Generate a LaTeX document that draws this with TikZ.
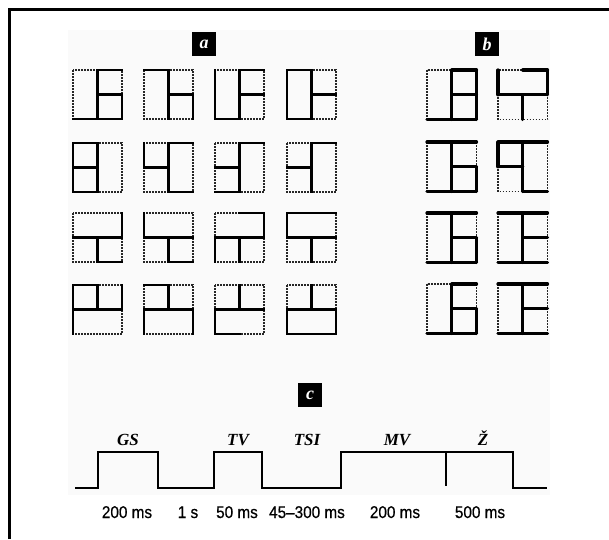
\documentclass[tikz,border=0pt]{standalone}
\usepackage{fontspec}
\setmainfont{Liberation Serif}
\newfontfamily\sansf[FakeStretch=0.9,FakeBold=0.6]{Liberation Sans}
\newcommand\glyphsq[6]{%
\begin{scope}[shift={(#1,#2)}]
\coordinate (TL) at (0,0); \coordinate (TM) at (#3/2,0); \coordinate (TR) at (#3,0);
\coordinate (ML) at (0,#3/2); \coordinate (C) at (#3/2,#3/2); \coordinate (MR) at (#3,#3/2);
\coordinate (BL) at (0,#3); \coordinate (BM) at (#3/2,#3); \coordinate (BR) at (#3,#3);
\draw[#4dot] (TL) rectangle (BR) #5;
\draw[#4sol] #6;
\end{scope}}
\tikzset{
  adot/.style={line width=1.2pt, dash pattern=on 1.6pt off 1.4pt, black!85},
  asol/.style={line width=2.6pt, line cap=rect},
  bdot/.style={line width=1.4pt, dash pattern=on 1.6pt off 1.4pt, black!85},
  bsol/.style={line width=3.2pt, line cap=round, line join=round},
  lab/.style={fill=black, text=white, minimum size=24pt, inner sep=0pt, font=\fontsize{18}{18}\selectfont\bfseries\itshape},
  tlab/.style={anchor=base, font=\fontsize{17}{17}\selectfont\bfseries\itshape},
  blab/.style={anchor=base, font=\sansf\fontsize{17}{17}\selectfont},
  wave/.style={line width=1.8pt, line join=miter}
}
\begin{document}
\begin{tikzpicture}[x=1pt,y=-1pt]
\useasboundingbox (0,0) rectangle (609,539);
\fill[black!2] (68,30) rectangle (550,495);
\draw[line width=3pt] (9.5,539) -- (9.5,9.5) -- (609,9.5);
% labels
\node[lab] (la) at (204,44) {a};
\node[lab] (lb) at (487,44) {b};
\node[lab] (lc) at (310,395) {c};
% panel a
\def\s{49}
% row 1 (V-R)
\glyphsq{73}{70}{\s}{a}{(TM)--(BM) (C)--(MR)}{(BL)--(BR) (TM)--(BM) (TM)--(TR) (C)--(MR) (MR)--(BR)}
\glyphsq{144}{70}{\s}{a}{(TM)--(BM) (C)--(MR)}{(TL)--(TM) (TM)--(BM) (C)--(MR) (MR)--(BR)}
\glyphsq{215}{70}{\s}{a}{(TM)--(BM) (C)--(MR)}{(TL)--(BL) (BL)--(BM) (TM)--(BM) (TM)--(TR) (C)--(MR)}
\glyphsq{287}{70}{\s}{a}{(TM)--(BM) (C)--(MR)}{(TL)--(TM) (TL)--(BL) (BL)--(BM) (TM)--(BM) (C)--(MR)}
% row 2 (V-L)
\glyphsq{73}{143}{\s}{a}{(TM)--(BM) (ML)--(C)}{(TL)--(BL) (TL)--(TM) (ML)--(C) (TM)--(BM) (BL)--(BM)}
\glyphsq{144}{143}{\s}{a}{(TM)--(BM) (ML)--(C)}{(TL)--(ML) (ML)--(C) (TM)--(BM) (TM)--(TR) (BM)--(BR)}
\glyphsq{215}{143}{\s}{a}{(TM)--(BM) (ML)--(C)}{(ML)--(C) (BL)--(BM) (TM)--(BM) (TM)--(TR)}
\glyphsq{287}{143}{\s}{a}{(TM)--(BM) (ML)--(C)}{(ML)--(C) (TM)--(BM) (TM)--(TR)}
% row 3 (H-B)
\glyphsq{73}{213}{\s}{a}{(ML)--(MR) (C)--(BM)}{(TR)--(MR) (ML)--(MR) (C)--(BM) (BM)--(BR)}
\glyphsq{144}{213}{\s}{a}{(ML)--(MR) (C)--(BM)}{(TL)--(ML) (ML)--(MR) (C)--(BM) (BM)--(BR)}
\glyphsq{215}{213}{\s}{a}{(ML)--(MR) (C)--(BM)}{(TM)--(TR) (TR)--(MR) (ML)--(MR) (C)--(BM) (ML)--(BL)}
\glyphsq{287}{213}{\s}{a}{(ML)--(MR) (C)--(BM)}{(TL)--(TR) (TL)--(ML) (ML)--(MR) (C)--(BM)}
% row 4 (H-T)
\glyphsq{73}{285}{\s}{a}{(ML)--(MR) (TM)--(C)}{(TL)--(TM) (TL)--(BL) (TM)--(C) (ML)--(MR) (TR)--(MR)}
\glyphsq{144}{285}{\s}{a}{(ML)--(MR) (TM)--(C)}{(TL)--(TM) (TM)--(C) (ML)--(MR) (ML)--(BL) (MR)--(BR)}
\glyphsq{215}{285}{\s}{a}{(ML)--(MR) (TM)--(C)}{(TM)--(C) (ML)--(MR) (ML)--(BL) (BL)--(BM)}
\glyphsq{287}{285}{\s}{a}{(ML)--(MR) (TM)--(C)}{(TM)--(C) (ML)--(MR) (ML)--(BL) (BL)--(BR) (MR)--(BR)}
% panel b
\def\t{49.5}
\glyphsq{427}{70}{\t}{b}{(TM)--(BM) (C)--(MR)}{(TM)--(TR) (TM)--(BM) (TR)--(BR) (C)--(MR) (BL)--(BR)}
\glyphsq{498}{70}{\t}{b}{(ML)--(MR) (C)--(BM)}{(TM)--(TR) (TL)--(ML) (TR)--(MR) (ML)--(MR) (C)--(BM)}
\glyphsq{427}{142}{\t}{b}{(TM)--(BM) (C)--(MR)}{(TL)--(TR) (TM)--(BM) (C)--(MR) (MR)--(BR) (BL)--(BR)}
\glyphsq{498}{142}{\t}{b}{(TM)--(BM) (ML)--(C)}{(TL)--(TR) (TL)--(ML) (ML)--(C) (TM)--(BM) (BM)--(BR)}
\glyphsq{427}{213}{\t}{b}{(TM)--(BM) (C)--(MR)}{(TL)--(TR) (TM)--(BM) (C)--(MR) (MR)--(BR) (BL)--(BR)}
\glyphsq{498}{213}{\t}{b}{(TM)--(BM) (C)--(MR)}{(TL)--(TR) (TM)--(BM) (C)--(MR) (BL)--(BR)}
\glyphsq{427}{284}{\t}{b}{(TM)--(BM) (C)--(MR)}{(TM)--(TR) (TM)--(BM) (C)--(MR) (MR)--(BR) (BL)--(BR)}
\glyphsq{498}{284}{\t}{b}{(TM)--(BM) (C)--(MR)}{(TL)--(TR) (TM)--(BM) (C)--(MR) (BL)--(BR)}
% panel c waveform
\draw[wave] (75,488) -- (98,488) -- (98,452) -- (158,452) -- (158,488) -- (214,488) -- (214,452) -- (262,452) -- (262,488) -- (341,488) -- (341,452) -- (513,452) -- (513,488) -- (547,488);
\draw[wave] (446,452) -- (446,486);
\node[tlab] (gs) at (128,445) {GS};
\node[tlab] (tv) at (238,445) {TV};
\node[tlab] (tsi) at (307,445) {TSI};
\node[tlab] (mv) at (397,445) {MV};
\node[tlab] (zz) at (483,445) {Ž};
\node[blab] (d1) at (127,518) {200 ms};
\node[blab] (d2) at (188,518) {1 s};
\node[blab] (d3) at (237,518) {50 ms};
\node[blab] (d4) at (307,518) {45–300 ms};
\node[blab] (d5) at (395,518) {200 ms};
\node[blab] (d6) at (480,518) {500 ms};
\end{tikzpicture}
\end{document}
